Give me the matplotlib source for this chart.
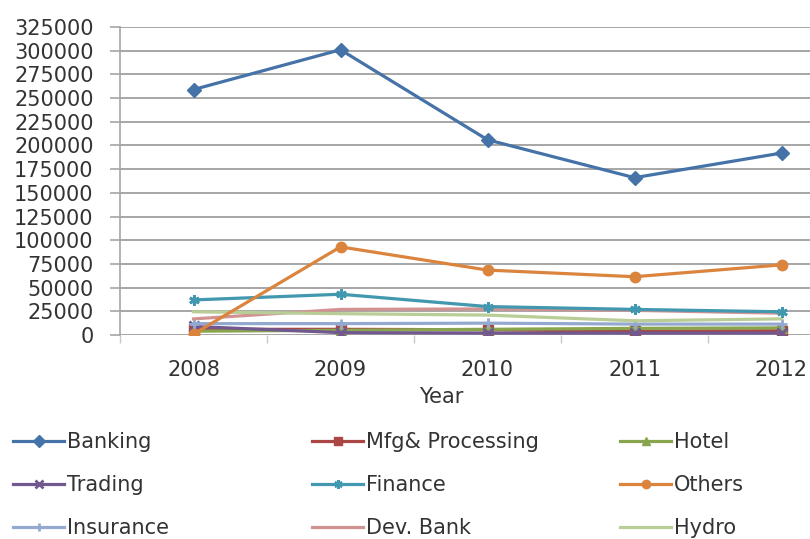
import numpy as np
import matplotlib.pyplot as plt

years = [2008, 2009, 2010, 2011, 2012]

banking = [259000, 301000, 206000, 166000, 192000]
mfg_processing = [6000, 6000, 5500, 4000, 4500]
hotel = [4000, 5000, 6000, 7000, 7500]
trading = [9000, 2500, 2000, 2000, 2000]
finance = [37000, 43000, 30000, 27000, 24500]
others = [1000, 93000, 68500, 61500, 74000]
insurance = [12000, 12000, 12500, 11500, 11500]
dev_bank = [17000, 27000, 27500, 26000, 23000]
hydro = [24500, 22500, 21000, 15000, 17000]

y_ticks = list(range(0, 325001, 25000))

# name, values, colour, marker
series = [
    ('Banking', banking, '#4572a7', 'D'),
    ('Mfg& Processing', mfg_processing, '#aa4643', 's'),
    ('Hotel', hotel, '#89a54e', '^'),
    ('Trading', trading, '#71588f', 'x'),
    ('Finance', finance, '#4198af', (6, 2, 0)),
    ('Others', others, '#db843d', 'o'),
    ('Insurance', insurance, '#93a9cf', '+'),
    ('Dev. Bank', dev_bank, '#d19392', None),
    ('Hydro', hydro, '#b9cd96', None),
]

fig = plt.figure(figsize=(8.1, 5.39), dpi=100)
# plot area runs past the right edge of the figure
ax = fig.add_axes([120 / 810, 204 / 539, 735 / 810, 308 / 539])

handles = {}
for i, (name, vals, col, mk) in enumerate(series):
    ln, = ax.plot(years, vals, color=col, lw=2.3, marker=mk, markersize=7.5,
                  markeredgewidth=2 if mk in ('x', '+', (6, 2, 0)) else 1,
                  markeredgecolor=col, markerfacecolor=col,
                  solid_joinstyle='miter', label=name, zorder=3 + i * 0.1)
    handles[name] = ln
# keep the big lines above the cluster near zero
handles['Others'].set_zorder(5)
handles['Finance'].set_zorder(4.5)

ax.set_xlim(2007.5, 2012.5)
ax.set_ylim(0, 325000)
ax.set_yticks(y_ticks)
ax.set_yticklabels([str(v) for v in y_ticks])
ax.set_xticks(years)
ax.set_xticks(np.arange(2007.5, 2012.6, 1.0), minor=True)

ax.grid(axis='y', color='#a6a6a6', lw=1.4, zorder=0)
ax.set_axisbelow(True)
for s in ['top', 'right', 'bottom']:
    ax.spines[s].set_visible(False)
ax.spines['left'].set_color('#a6a6a6')
ax.spines['left'].set_linewidth(1.2)

ax.tick_params(axis='y', direction='out', length=7, width=1.2, color='#a6a6a6',
               pad=12, labelsize=15, labelcolor='#333333')
ax.tick_params(axis='x', which='major', length=0, pad=18, labelsize=15,
               labelcolor='#333333')
ax.tick_params(axis='x', which='minor', direction='out', length=6, width=1,
               color='#c8c8c8')

fig.text(441 / 810, 1 - 397 / 539, 'Year', ha='center', va='center',
         fontsize=15, color='#333333')

# legend in three columns, each its own box
columns = [
    (13, ['Banking', 'Trading', 'Insurance']),
    (312, ['Mfg& Processing', 'Finance', 'Dev. Bank']),
    (620, ['Hotel', 'Others', 'Hydro']),
]
for x0, names in columns:
    fig.legend([handles[n] for n in names], names, loc='center left',
               bbox_to_anchor=(x0 / 810, 1 - 485 / 539), frameon=False,
               fontsize=15, handlelength=2.45, handletextpad=0.15,
               labelspacing=1.1, borderpad=0, borderaxespad=0,
               labelcolor='#333333', markerscale=0.8)

plt.savefig('out.png', dpi=100)
